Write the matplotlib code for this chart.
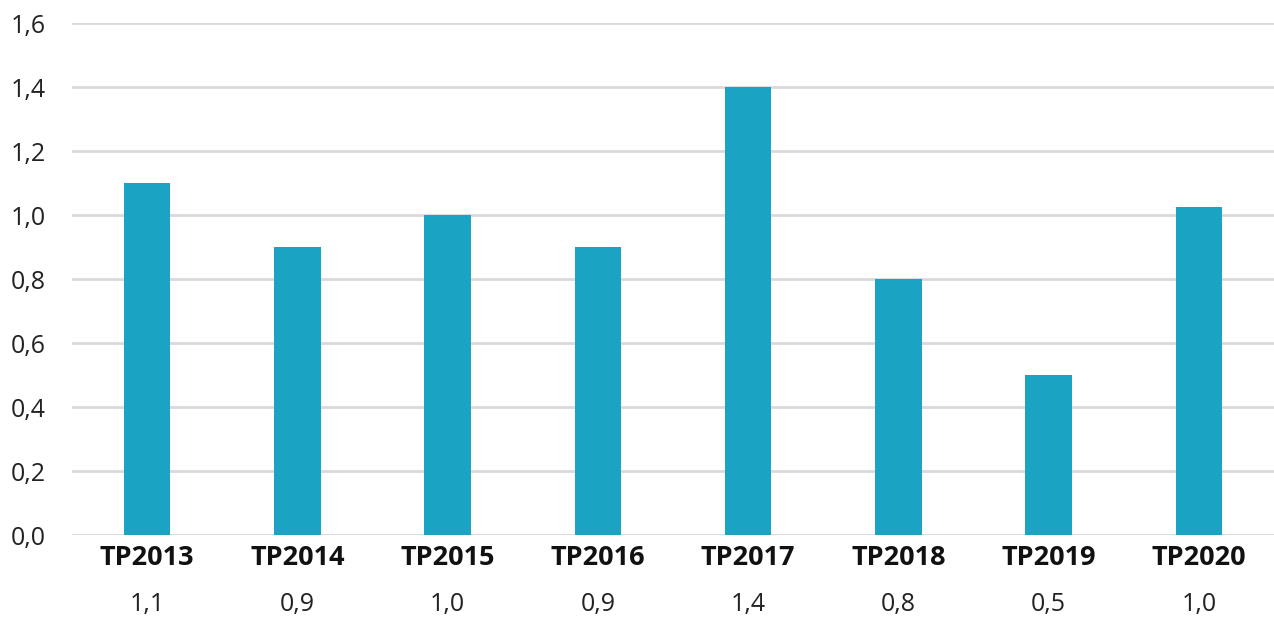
import matplotlib

matplotlib.use("Agg")
import matplotlib.pyplot as plt  # noqa: E402
from matplotlib.ticker import FuncFormatter  # noqa: E402

plt.rcParams["font.family"] = ["Open Sans", "DejaVu Sans"]

BLUE, GRID = "#1ba3c3", "#d9d9d9"

categories = ["TP2013", "TP2014", "TP2015", "TP2016", "TP2017", "TP2018", "TP2019", "TP2020"]
values = [1.1, 0.9, 1.0, 0.9, 1.4, 0.8, 0.5, 1.025]
value_labels = ["1,1", "0,9", "1,0", "0,9", "1,4", "0,8", "0,5", "1,0"]

fig = plt.figure(figsize=(12.74, 6.19), dpi=100)
ax = fig.add_axes([0.0565, 0.1357, 0.9435, 0.8271])

x = range(len(categories))
ax.bar(x, values, 0.31, color=BLUE, zorder=3)

ax.set_xlim(-0.5, len(categories) - 0.5)
ax.set_ylim(0, 1.6)
ax.set_yticks([i * 0.2 for i in range(9)])
ax.yaxis.set_major_formatter(FuncFormatter(lambda v, _: f"{v:.1f}".replace(".", ",")))
ax.tick_params(axis="y", length=0, labelsize=18, pad=19, colors="#222222")
ax.set_xticks([])
ax.grid(axis="y", color=GRID, linewidth=2, zorder=0)
for s in ax.spines.values():
    s.set_visible(False)

trans = ax.get_xaxis_transform()
for i, (cat, lab) in enumerate(zip(categories, value_labels)):
    ax.text(i, -0.045, cat, transform=trans, ha="center", va="center",
            fontsize=19.5, fontweight="bold", color="#111111")
    ax.text(i, -0.135, lab, transform=trans, ha="center", va="center",
            fontsize=18, color="#222222")

fig.savefig("out.png", dpi=100)
